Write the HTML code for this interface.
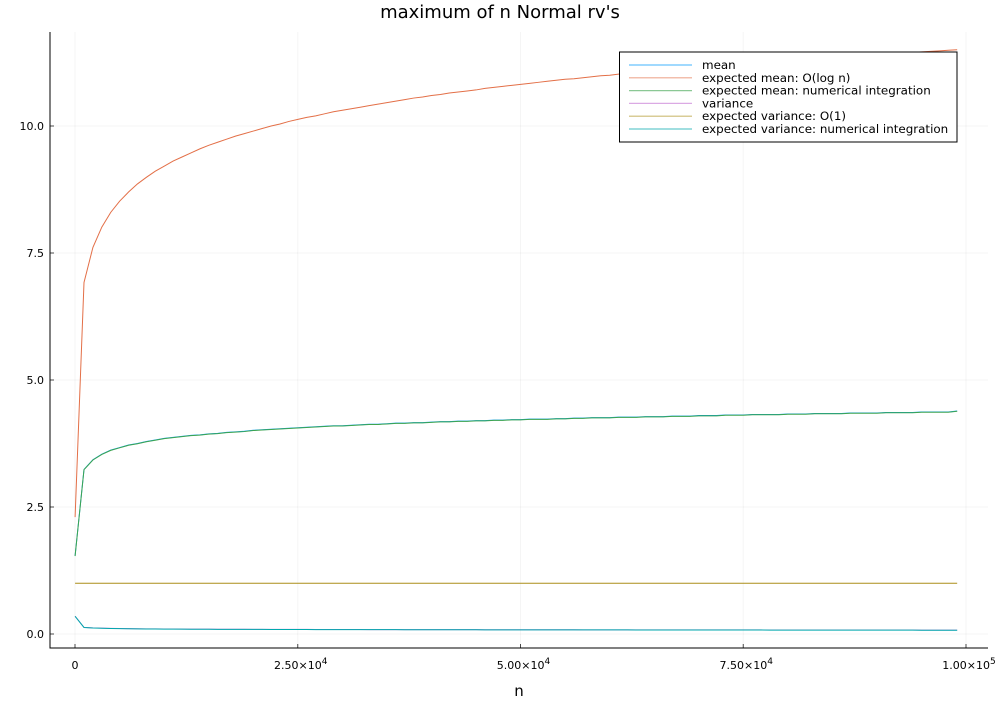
<!DOCTYPE html>
<html><head><meta charset="utf-8"><style>
body{margin:0;background:#fff;}
svg{font-family:"DejaVu Sans","Liberation Sans",sans-serif;}
</style></head><body>
<svg id="chart" width="1000" height="700" xmlns="http://www.w3.org/2000/svg"></svg>
<script>
const nTicks=[0,25000,50000,75000,100000];
const nTickBase=["0","2.50×10","5.00×10","7.50×10","1.00×10"];
const nTickExp=["","4","4","4","5"];
const yTicks=[0,2.5,5,7.5,10];
const yTickLabels=["0.0","2.5","5.0","7.5","10.0"];
const nValues=[];for(let k=0;k<100;k++)nValues.push(10+1000*k);
const logMean=[2.30,6.92,7.61,8.01,8.30,8.52,8.70,8.86,8.99,9.11,9.21,9.31,9.39,9.47,9.55,9.62,9.68,9.74,9.80,9.85,9.90,9.95,10.00,10.04,10.09,10.13,10.17,10.20,10.24,10.28,10.31,10.34,10.37,10.40,10.43,10.46,10.49,10.52,10.55,10.57,10.60,10.62,10.65,10.67,10.69,10.71,10.74,10.76,10.78,10.80,10.82,10.84,10.86,10.88,10.90,10.92,10.93,10.95,10.97,10.99,11.00,11.02,11.04,11.05,11.07,11.08,11.10,11.11,11.13,11.14,11.16,11.17,11.18,11.20,11.21,11.23,11.24,11.25,11.27,11.28,11.29,11.30,11.32,11.33,11.34,11.35,11.36,11.37,11.39,11.40,11.41,11.42,11.43,11.44,11.45,11.46,11.47,11.48,11.49,11.50];
const meanVals=[1.54,3.24,3.43,3.54,3.62,3.67,3.72,3.75,3.79,3.82,3.85,3.87,3.89,3.91,3.92,3.94,3.95,3.97,3.98,3.99,4.01,4.02,4.03,4.04,4.05,4.06,4.07,4.08,4.09,4.10,4.10,4.11,4.12,4.13,4.13,4.14,4.15,4.15,4.16,4.16,4.17,4.18,4.18,4.19,4.19,4.20,4.20,4.21,4.21,4.22,4.22,4.23,4.23,4.23,4.24,4.24,4.25,4.25,4.26,4.26,4.26,4.27,4.27,4.27,4.28,4.28,4.28,4.29,4.29,4.29,4.30,4.30,4.30,4.31,4.31,4.31,4.32,4.32,4.32,4.32,4.33,4.33,4.33,4.34,4.34,4.34,4.34,4.35,4.35,4.35,4.35,4.36,4.36,4.36,4.36,4.37,4.37,4.37,4.37,4.39];
const numMean=meanVals.map(v=>v-0.005);
const varVals=[0.35,0.13,0.12,0.115,0.11,0.108,0.105,0.103,0.101,0.10,0.099,0.098,0.097,0.096,0.096,0.095,0.094,0.094,0.093,0.093,0.092,0.092,0.091,0.091,0.090,0.090,0.090,0.089,0.089,0.089,0.088,0.088,0.088,0.087,0.087,0.087,0.087,0.086,0.086,0.086,0.086,0.085,0.085,0.085,0.085,0.085,0.084,0.084,0.084,0.084,0.084,0.083,0.083,0.083,0.083,0.083,0.083,0.082,0.082,0.082,0.082,0.082,0.082,0.081,0.081,0.081,0.081,0.081,0.081,0.081,0.080,0.080,0.080,0.080,0.080,0.080,0.080,0.080,0.079,0.079,0.079,0.079,0.079,0.079,0.079,0.079,0.078,0.078,0.078,0.078,0.078,0.078,0.078,0.078,0.078,0.077,0.077,0.077,0.077,0.077];
const constVar=nValues.map(()=>1);
const numVar=varVals.map(v=>v-0.002);
const seriesNames=["mean","expected mean: O(log n)","expected mean: numerical integration","variance","expected variance: O(1)","expected variance: numerical integration"];
const seriesColors=["#009AFA","#E36F47","#3EA44E","#C371D2","#AC8E18","#00A9AD"];
const seriesData=[meanVals,logMean,numMean,varVals,constVar,numVar];

const svg=document.getElementById('chart');const NS="http://www.w3.org/2000/svg";
const L=50,R=988,T=32,B=648;
const xS=v=>75+v*(966-75)/100000;
const yS=v=>634-v*50.8;
function mk(tag,attrs,parent){const e=document.createElementNS(NS,tag);for(const k in attrs)e.setAttribute(k,attrs[k]);(parent||svg).appendChild(e);return e;}
const t=mk('text',{x:500,y:18,'text-anchor':'middle','font-size':18,fill:'#000'});t.textContent="maximum of n Normal rv's";


nTicks.forEach((v,i)=>{
 const g=mk('line',{x1:xS(v),x2:xS(v),y1:T,y2:B,stroke:'#000','stroke-opacity':0.04});
 
 
 mk('line',{x1:xS(v),x2:xS(v),y1:B,y2:B-4,stroke:'#000','stroke-opacity':0.7});
 const tx=mk('text',{x:xS(v)+(nTickExp[i]?3:0),y:B+21,'text-anchor':'middle','font-size':11});
 tx.appendChild(document.createTextNode(nTickBase[i]));
 if(nTickExp[i]){const sp=mk('tspan',{'font-size':9,dy:-5},tx);sp.textContent=nTickExp[i];}
 
 
});
yTicks.forEach((v,i)=>{
 const g=mk('line',{x1:L,x2:R,y1:yS(v),y2:yS(v),stroke:'#000','stroke-opacity':0.04});
 
 
 mk('line',{x1:L,x2:L+4,y1:yS(v),y2:yS(v),stroke:'#000','stroke-opacity':0.7});
 const tx=mk('text',{x:L-6,y:yS(v)+4,'text-anchor':'end','font-size':11});tx.textContent=yTickLabels[i];
 
 
});
const ax=mk('path',{d:`M${L},${T}V${B}H${R}`,fill:'none',stroke:'#000'});


const xl=mk('text',{x:519,y:696,'text-anchor':'middle','font-size':15});xl.textContent="n";


seriesData.forEach((d,s)=>{
 const p=mk('polyline',{points:d.map((v,i)=>xS(nValues[i])+','+yS(v)).join(' '),fill:'none',stroke:seriesColors[s],'stroke-width':1});
 
 
});
const lg=mk('g',{});


mk('rect',{x:619.5,y:52,width:337.5,height:90,fill:'#fff',stroke:'#000'},lg);
seriesNames.forEach((n,i)=>{
 const y=65+i*12.8;
 mk('line',{x1:629,x2:692,y1:y,y2:y,stroke:seriesColors[i],'stroke-width':1.2,'stroke-opacity':0.6},lg);
 const tx=mk('text',{x:702,y:y+4,'font-size':11.9},lg);tx.textContent=n;
 
 
});
</script></body></html>
